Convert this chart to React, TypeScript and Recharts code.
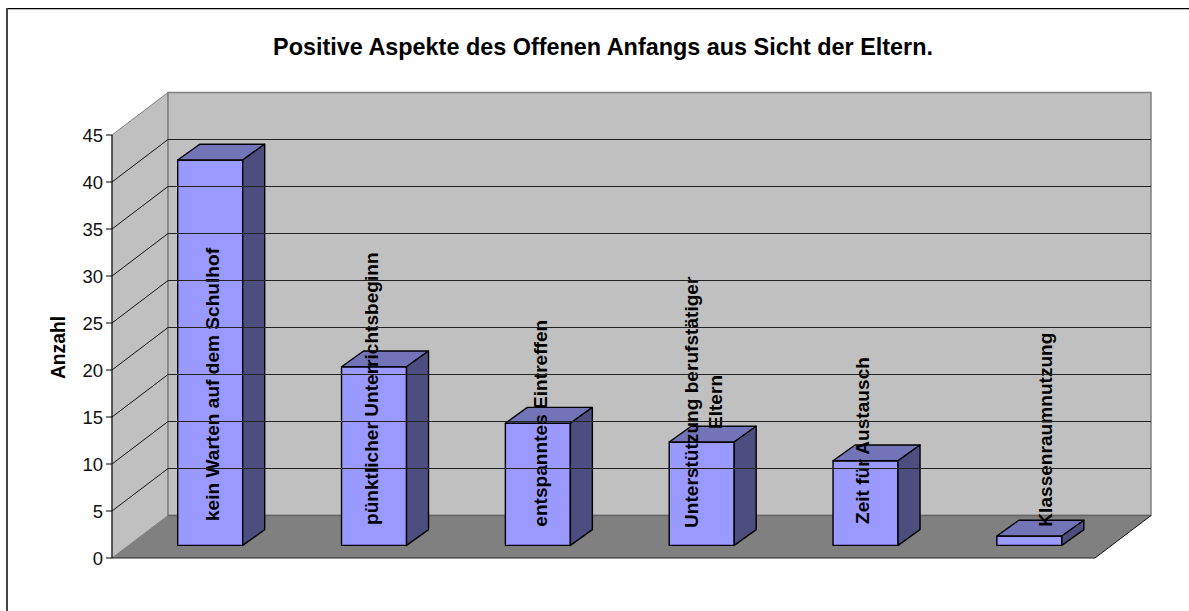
import React from 'react';
import { ComposedChart, Bar, XAxis, YAxis, ReferenceArea, ReferenceLine } from 'recharts';

const categories = ['kein Warten auf dem Schulhof', 'pünktlicher Unterrichtsbeginn', 'entspanntes Eintreffen', 'Unterstützung berufstätiger|Eltern', 'Zeit für Austausch', 'Klassenraumnutzung'];
const counts = [41, 19, 13, 11, 9, 1];
const yTicks = [0, 5, 10, 15, 20, 25, 30, 35, 40, 45];
const data = categories.map((name, i) => ({ name, count: counts[i] }));

const WALL_DX = 56;
const WALL_DY = -42.5;
const BAR_X = 16.7;
const BAR_Y = -12.6;
const BAR_DX = 22;
const BAR_DY = -15.8;
const FONT = '"Liberation Sans", Arial, sans-serif';
const LABEL_SIZE = 19.1;
const labelBottom = [521, 525, 526.7, 528, 524, 526.7];
const labelBaseline = [8.3, 4, 9, -4, 3, 22.5];
const secondLine = { dx: 24.7, dy: -126 };

function Walls(p: any) {
  const { x, y, width: w, height: h } = p;
  const b = y + h;
  const r = x + w;
  return (
    <g>
      <polygon points={`${x},${y} ${x + WALL_DX},${y + WALL_DY} ${x + WALL_DX},${b + WALL_DY} ${x},${b}`} fill="#C0C0C0" stroke="#808080" strokeWidth={1} />
      <polygon points={`${x + WALL_DX},${y + WALL_DY} ${r + WALL_DX},${y + WALL_DY} ${r + WALL_DX},${b + WALL_DY} ${x + WALL_DX},${b + WALL_DY}`} fill="#C0C0C0" stroke="#808080" strokeWidth={1.5} />
      <polygon points={`${x},${b} ${x + WALL_DX},${b + WALL_DY} ${r + WALL_DX},${b + WALL_DY} ${r},${b}`} fill="#808080" />
      <line x1={x + WALL_DX} y1={b + WALL_DY} x2={r + WALL_DX} y2={b + WALL_DY} stroke="#666" strokeWidth={1.5} />
      <line x1={r} y1={b} x2={r + WALL_DX} y2={b + WALL_DY} stroke="#111" strokeWidth={1} />
      <line x1={x} y1={b} x2={r} y2={b} stroke="#222" strokeWidth={1.2} />
    </g>
  );
}

function Grid(p: any) {
  const { x1, x2, y1 } = p;
  return (
    <g>
      <line x1={x1} y1={y1} x2={x1 + WALL_DX} y2={y1 + WALL_DY} stroke="#111" strokeWidth={1} />
      <line x1={x1 + WALL_DX} y1={y1 + WALL_DY} x2={x2 + WALL_DX} y2={y1 + WALL_DY} stroke="#222" strokeWidth={1.2} />
    </g>
  );
}

function Bar3D(p: any) {
  const { x, y, width: w, height: h, index, payload } = p;
  const l = x + BAR_X;
  const t = y + BAR_Y;
  const r = l + w;
  const b = t + h;
  const lines = String(payload.name).split('|');
  const base = l + w / 2 + labelBaseline[index];
  const bottom = labelBottom[index];
  const stroke = { stroke: '#000', strokeWidth: 1.4, strokeLinejoin: 'round' as const };
  const txt = { fontFamily: FONT, fontWeight: 'bold', fontSize: LABEL_SIZE, fill: '#000' };
  return (
    <g>
      <polygon points={`${l},${t} ${r},${t} ${r},${b} ${l},${b}`} fill="#9999FF" {...stroke} />
      <polygon points={`${l},${t} ${l + BAR_DX},${t + BAR_DY} ${r + BAR_DX},${t + BAR_DY} ${r},${t}`} fill="#7373B8" {...stroke} />
      <polygon points={`${r},${t} ${r + BAR_DX},${t + BAR_DY} ${r + BAR_DX},${b + BAR_DY} ${r},${b}`} fill="#4D4D80" {...stroke} />
      <text transform={`translate(${base},${bottom}) rotate(-90)`} {...txt}>{lines[0]}</text>
      {lines[1] ? (
        <text transform={`translate(${base + secondLine.dx},${bottom + secondLine.dy}) rotate(-90)`} textAnchor="middle" {...txt}>{lines[1]}</text>
      ) : null}
    </g>
  );
}

export default function App() {
  return (
    <div style={{ position: 'absolute', left: 0, top: 0, width: 1189, height: 611, background: '#fff' }}>
      <ComposedChart width={1189} height={611} data={data} margin={{ top: 135, right: 94, bottom: 53, left: 0 }} style={{ position: 'absolute', left: 0, top: 0 }}>
        <XAxis dataKey="name" hide />
        <YAxis
          width={112}
          domain={[0, 45]}
          ticks={yTicks}
          interval={0}
          tickSize={6}
          tickMargin={3}
          tickLine={{ stroke: '#000' }}
          axisLine={{ stroke: '#000' }}
          tick={{ fill: '#111', fontFamily: FONT, fontSize: 18.5, dy: 0 }}
        />
        <ReferenceArea y1={0} y2={45} shape={Walls} ifOverflow="visible" />
        {yTicks.filter((t) => t > 0 && t < 45).map((t) => (
          <ReferenceLine key={t} y={t} shape={Grid} />
        ))}
        <Bar dataKey="count" barSize={65} shape={Bar3D} isAnimationActive={false} />
        <text x={603} y={55} textAnchor="middle" fontFamily={FONT} fontWeight="bold" fontSize={23.4} fill="#000">Positive Aspekte des Offenen Anfangs aus Sicht der Eltern.</text>
        <text transform="translate(65,347.5) rotate(-90)" textAnchor="middle" fontFamily={FONT} fontWeight="bold" fontSize={19.3} fill="#000">Anzahl</text>
      </ComposedChart>
      <div style={{ position: 'absolute', left: 6, top: 8, width: 1183, height: 1, background: '#000' }} />
      <div style={{ position: 'absolute', left: 6, top: 9, width: 1183, height: 1, background: '#bbb' }} />
      <div style={{ position: 'absolute', left: 6, top: 8, width: 2, height: 603, background: '#444' }} />
    </div>
  );
}
